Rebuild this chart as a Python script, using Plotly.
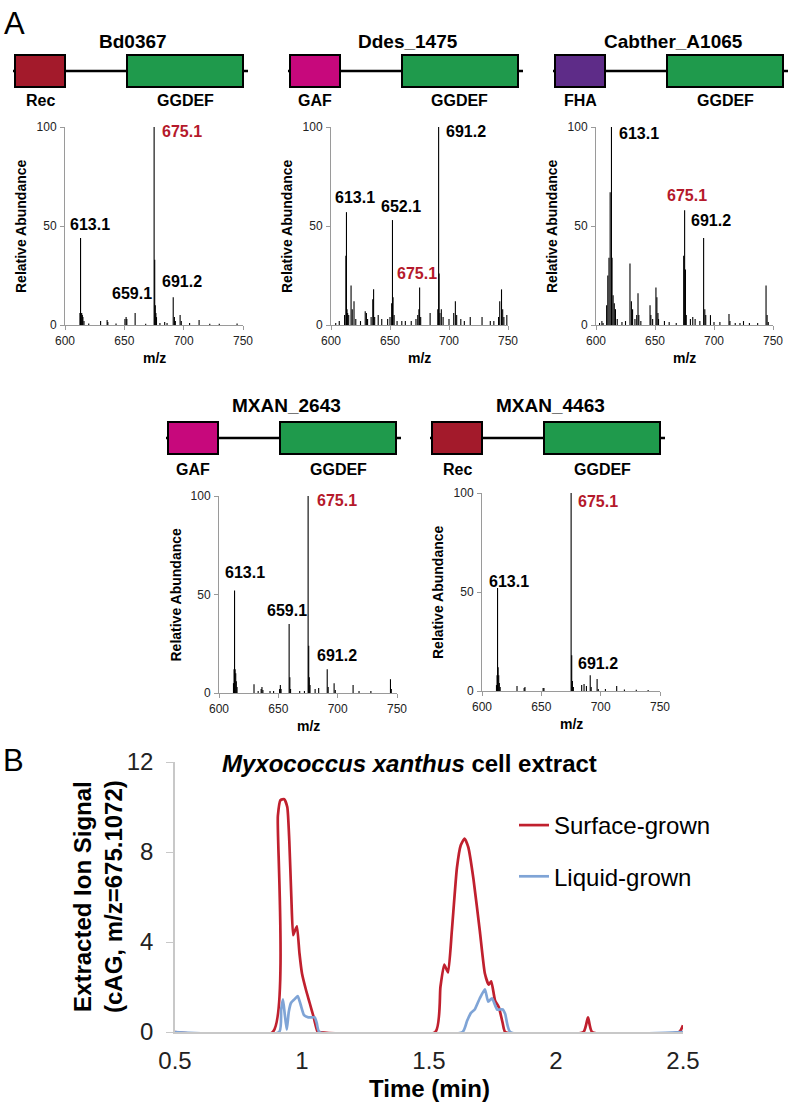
import plotly.graph_objects as go

# ---------------- DATA ----------------
proteins = ["Bd0367", "Ddes_1475", "Cabther_A1065", "MXAN_2643", "MXAN_4463"]
n_domains = ["Rec", "GAF", "FHA", "GAF", "Rec"]
c_domain = "GGDEF"
domain_colors = {"Rec": "#A31A2B", "GAF": "#C7087C", "FHA": "#5E2C88", "GGDEF": "#1F9A4C"}

# stick spectra (m/z, relative abundance)
bd0367_mz = [612.6, 613.1, 613.6, 614.1, 614.6, 615.1, 616.0, 620.0, 630.0, 635.5, 636.1, 643.0,
             650.5, 651.5, 652.1, 659.1, 668.0, 675.1, 675.6, 676.1, 676.6, 677.1, 680.0, 684.0,
             686.0, 691.2, 692.2, 693.0, 697.0, 698.0, 705.0, 713.0, 722.0, 730.0, 745.0]
bd0367_int = [6, 44, 6, 6, 5, 4, 2, 0.8, 2, 2.5, 1.5, 0.8,
              3, 4, 3, 6, 0.6, 100, 33, 10, 6, 4, 1, 1.5,
              1, 14, 4, 2, 5, 2, 1, 2.5, 0.6, 0.6, 0.8]

ddes_mz = [604.0, 607.0, 611.5, 612.6, 613.1, 613.6, 614.1, 615.0, 617.0, 618.0, 619.5, 621.0, 625.0,
           629.0, 630.0, 631.0, 634.0, 635.4, 636.1, 637.0, 640.0, 643.0, 648.0, 650.0, 651.4, 652.1,
           652.6, 653.5, 656.0, 660.0, 663.0, 668.0, 672.0, 673.5, 674.5, 675.1, 676.0, 684.0, 690.5,
           691.2, 691.6, 692.3, 693.5, 695.0, 700.0, 704.0, 705.4, 706.5, 710.0, 713.0, 718.0, 728.0,
           735.0, 738.0, 742.0, 743.0, 744.5, 745.5, 746.5, 749.0]
ddes_int = [1, 2, 5, 35, 57, 8, 6, 5, 20, 8, 12, 3, 2,
            7, 6, 3, 4, 13, 18, 4, 5, 3, 3, 4, 11, 53,
            14, 5, 2, 2, 2, 2, 3, 5, 8, 19, 4, 6, 8,
            100, 26, 6, 8, 4, 3, 6, 12, 5, 3, 2, 4, 4,
            2, 2, 4, 12, 18, 8, 4, 5]

cabther_mz = [603.0, 605.0, 606.0, 609.0, 610.0, 611.0, 612.0, 613.1, 613.6, 614.5, 615.5, 616.5, 618.0,
              622.0, 625.0, 628.8, 630.0, 631.0, 633.0, 634.5, 635.6, 636.3, 638.0, 645.8, 646.5, 648.0,
              650.8, 651.6, 652.5, 653.0, 658.0, 662.0, 668.0, 674.3, 675.1, 675.8, 676.5, 680.0, 682.0,
              684.0, 688.0, 691.2, 692.2, 693.0, 697.0, 700.0, 705.0, 712.7, 713.5, 718.0, 722.0, 725.0,
              730.0, 737.0, 744.1, 745.0, 746.0]
cabther_int = [1, 2, 1, 10, 25, 34, 67, 100, 34, 15, 11, 8, 3,
               1.5, 2, 31, 12, 8, 3, 5, 16, 5, 2, 10, 5, 3,
               19, 14, 6, 3, 2, 1.5, 1, 35, 58, 28, 5, 3, 4,
               3, 2, 44, 8, 5, 5, 1.5, 1.5, 5.5, 2, 1, 1, 2,
               1, 1, 20, 5, 1.5]

mxan2643_mz = [612.2, 612.7, 613.1, 613.6, 614.1, 614.6, 615.2, 629.5, 633.0, 635.5, 636.2, 637.0,
               643.0, 646.0, 651.0, 651.7, 652.3, 659.1, 659.7, 660.3, 668.0, 672.0, 675.1, 675.6,
               676.1, 676.7, 681.0, 684.0, 691.2, 692.0, 697.0, 698.0, 713.0, 718.0, 728.0, 744.5, 745.2]
mxan2643_int = [5, 12, 52, 12, 10, 6, 3, 4.5, 1, 2, 3, 1.5,
                1, 1, 2, 4, 2, 35, 8, 2, 1, 1, 100, 24,
                8, 4, 2, 2.5, 12, 3, 5, 1.5, 4, 1, 1, 7, 2]

mxan4463_mz = [612.2, 612.7, 613.1, 613.6, 614.1, 614.6, 615.3, 629.5, 635.5, 636.2, 651.5, 652.2,
               675.1, 675.6, 676.2, 677.0, 684.0, 686.0, 688.0, 691.2, 692.0, 697.0, 698.0, 704.0,
               713.5, 720.0, 730.0, 740.0]
mxan4463_int = [3, 8, 52, 12, 8, 4, 2, 2.5, 1.5, 2, 1.5, 1.5,
                100, 18, 5, 2, 3, 3.5, 2.5, 8, 2, 6, 1, 1,
                2.5, 0.8, 0.6, 0.5]

spectra = [(bd0367_mz, bd0367_int), (ddes_mz, ddes_int), (cabther_mz, cabther_int),
           (mxan2643_mz, mxan2643_int), (mxan4463_mz, mxan4463_int)]

# peak labels: (text, label m/z anchor, label abundance anchor, highlighted)
peak_labels = [
    [("613.1", 602.5, 51, False), ("675.1", 680, 97.5, True), ("659.1", 638, 16, False), ("691.2", 680, 22, False)],
    [("691.2", 695.8, 97.5, False), ("613.1", 601.7, 64.5, False), ("652.1", 640.7, 60, False), ("675.1", 654.2, 26, True)],
    [("613.1", 617.8, 96.5, False), ("675.1", 658.5, 65.5, True), ("691.2", 678.8, 53, False)],
    [("675.1", 681, 97.5, True), ("613.1", 603.4, 61, False), ("659.1", 638.8, 42, False), ("691.2", 681, 19, False)],
    [("675.1", 679.2, 95.5, True), ("613.1", 604.2, 55.5, False), ("691.2", 679.2, 14, False)],
]

mz_ticks = [600, 650, 700, 750]
abund_ticks = [0, 50, 100]

# Panel B chromatograms
surface_t = [0.5, 0.885, 0.905, 0.915, 0.93, 0.942, 0.95, 0.958, 0.965, 0.972, 0.98, 0.99, 1.0, 1.015,
             1.03, 1.045, 1.06, 1.068, 1.525, 1.545, 1.56, 1.575, 1.59, 1.61, 1.625, 1.64, 1.655,
             1.675, 1.70, 1.72, 1.735, 1.745, 1.76, 1.775, 1.79, 1.80, 2.108, 2.126, 2.142, 2.485, 2.5]
surface_sig = [0, 0, 9.6, 10.3, 10.35, 10.0, 8.5, 6.0, 4.3, 4.5, 4.7, 3.5, 2.6, 1.9,
               1.3, 0.7, 0.05, 0, 0, 2.0, 3.0, 2.65, 4.5, 7.3, 8.3, 8.6, 8.2,
               6.8, 4.5, 2.6, 2.1, 2.25, 1.4, 1.1, 0.4, 0, 0, 0.65, 0, 0, 0.3]
liquid_t = [0.5, 0.91, 0.918, 0.925, 0.932, 0.94, 0.948, 0.957, 0.97, 0.983, 0.995, 1.008, 1.025,
            1.05, 1.058, 1.068, 1.632, 1.65, 1.665, 1.68, 1.70, 1.72, 1.733, 1.748, 1.768, 1.79,
            1.80, 1.82, 2.5]
liquid_sig = [0, 0, 1.0, 1.45, 0.8, 0.1, 0.9, 1.3, 1.45, 1.6, 1.2, 0.75, 0.65,
              0.65, 0.4, 0, 0, 0.5, 0.85, 1.0, 1.5, 1.9, 1.35, 1.5, 1.0, 1.0,
              0.8, 0, 0]
time_ticks = [0.5, 1, 1.5, 2, 2.5]
signal_ticks = [0, 4, 8, 12]

# ---------------- LAYOUT ----------------
W, H = 796, 1111
FONT = "Arial, Liberation Sans, sans-serif"
RED = "#B5192B"


def px(x):
    return x / W


def py(y):
    return 1 - y / H


def note(text, x, y, size, color="black", angle=0, xanchor="center"):
    return dict(text=text, x=px(x), y=py(y), xref="paper", yref="paper", textangle=angle,
                xanchor=xanchor, yanchor="middle", showarrow=False,
                font=dict(family=FONT, size=size, color=color))


# spectrum axes pixel boxes: (left, right, bottom(0), top(100))
spec_boxes = [(65, 243, 325, 127), (331, 508, 325, 127), (596, 773, 325, 127),
              (219, 397, 693, 496), (482, 660, 691, 493)]
diag_left = [15, 290, 555, 168, 432]
diag_rows = [(71, 42, 100), (71, 42, 100), (71, 42, 100), (438, 405, 469), (438, 405, 469)]

fig = go.Figure()
annotations = []
shapes = []

for i, ((mz, ab), box) in enumerate(zip(spectra, spec_boxes)):
    k = i + 1
    xs, ys = [], []
    for m, a in zip(mz, ab):
        xs += [m, m, None]
        ys += [0, a, None]
    fig.add_trace(go.Scatter(x=xs, y=ys, mode="lines", line=dict(color="black", width=1.1),
                             xaxis=f"x{k}", yaxis=f"y{k}", showlegend=False, hoverinfo="skip"))
    l, r, b, t = box
    axis_common = dict(showgrid=False, zeroline=False, showline=True, linecolor="#9A9A9A",
                       linewidth=1, ticks="outside", ticklen=4, tickcolor="#9A9A9A", automargin=False,
                       tickfont=dict(family=FONT, size=12, color="#222"))
    fig.layout[f"xaxis{k}"] = dict(domain=[px(l), px(r)], range=[600, 750], tickvals=mz_ticks,
                                   anchor=f"y{k}", ticklabelstandoff=1, **axis_common)
    fig.layout[f"yaxis{k}"] = dict(domain=[py(b), py(t)], range=[0, 100], tickvals=abund_ticks,
                                   anchor=f"x{k}", ticklabelstandoff=1, **axis_common)
    # axis titles
    annotations.append(note("<b>Relative Abundance</b>", l - 44, (b + t) / 2, 14, angle=-90))
    annotations.append(note("<b>m/z</b>", (l + r) / 2, b + 33, 14))
    # peak labels
    for txt, lx, ly, hl in peak_labels[i]:
        annotations.append(dict(text=f"<b>{txt}</b>", x=lx, y=ly, xref=f"x{k}", yref=f"y{k}",
                                xanchor="left", yanchor="middle", showarrow=False,
                                font=dict(family=FONT, size=16, color=RED if hl else "black")))
    # domain diagram
    d0 = diag_left[i]
    yc, ytitle, ylab = diag_rows[i]
    shapes.append(dict(type="line", xref="paper", yref="paper", x0=px(d0 - 2), x1=px(d0 + 233),
                       y0=py(yc), y1=py(yc), line=dict(color="black", width=2.5)))
    for (bx0, bw, dname) in [(d0, 50, n_domains[i]), (d0 + 112, 116, c_domain)]:
        shapes.append(dict(type="rect", xref="paper", yref="paper", x0=px(bx0), x1=px(bx0 + bw),
                           y0=py(yc + 16), y1=py(yc - 16), fillcolor=domain_colors[dname],
                           line=dict(color="black", width=2)))
        annotations.append(note(f"<b>{dname}</b>", bx0 + bw / 2, ylab, 16))
    annotations.append(note(f"<b>{proteins[i]}</b>", d0 + 118, ytitle, 19))

# Panel B
fig.add_trace(go.Scatter(x=surface_t, y=surface_sig, mode="lines", name="Surface-grown",
                         line=dict(color="#C0202E", width=2.7, shape="spline", smoothing=0.5),
                         xaxis="x6", yaxis="y6", legendgroup="a"))
fig.add_trace(go.Scatter(x=liquid_t, y=liquid_sig, mode="lines", name="Liquid-grown",
                         line=dict(color="#7FA4D6", width=2.7, shape="spline", smoothing=0.5),
                         xaxis="x6", yaxis="y6", legendgroup="b"))
bl, br, bb, bt = 175, 683, 1032, 762
fig.layout["xaxis6"] = dict(domain=[px(bl), px(br)], range=[0.5, 2.5], tickvals=time_ticks, anchor="y6",
                            showgrid=False, zeroline=False, showline=True, linecolor="#C8C8C8", linewidth=1.5,
                            ticks="", ticklabelstandoff=6, automargin=False,
                            tickfont=dict(family=FONT, size=24, color="#222"))
fig.layout["yaxis6"] = dict(domain=[py(bb), py(bt)], range=[0, 12], tickvals=signal_ticks, anchor="x6",
                            showgrid=False, zeroline=False, showline=True, linecolor="#C8C8C8", linewidth=1.5,
                            ticks="outside", ticklen=7, tickcolor="#C8C8C8", ticklabelstandoff=8,
                            automargin=False, tickfont=dict(family=FONT, size=24, color="#222"))
annotations.append(note("<b><i>Myxococcus xanthus</i> cell extract</b>", 410, 763, 24))
annotations.append(note("<b>Time (min)</b>", 429, 1088, 24))
annotations.append(note("<b>Extracted Ion Signal<br>(cAG, m/z=675.1072)</b>", 98, 897, 24, angle=-90))
# panel letters
annotations.append(note("A", 14, 23, 31))
annotations.append(note("B", 13, 760, 31))

fig.update_layout(
    template="none",
    width=W, height=H, margin=dict(l=0, r=0, t=0, b=0, pad=0, autoexpand=False),
    paper_bgcolor="white", plot_bgcolor="white",
    annotations=annotations, shapes=shapes,
    showlegend=True,
    legend=dict(x=px(514), y=py(803), xanchor="left", yanchor="top", bgcolor="rgba(0,0,0,0)",
                font=dict(family=FONT, size=24, color="black"), tracegroupgap=17,
                traceorder="grouped"),
)

fig.write_html("out.html", config={"displayModeBar": False},
               post_script="document.body.style.margin='0px';")
